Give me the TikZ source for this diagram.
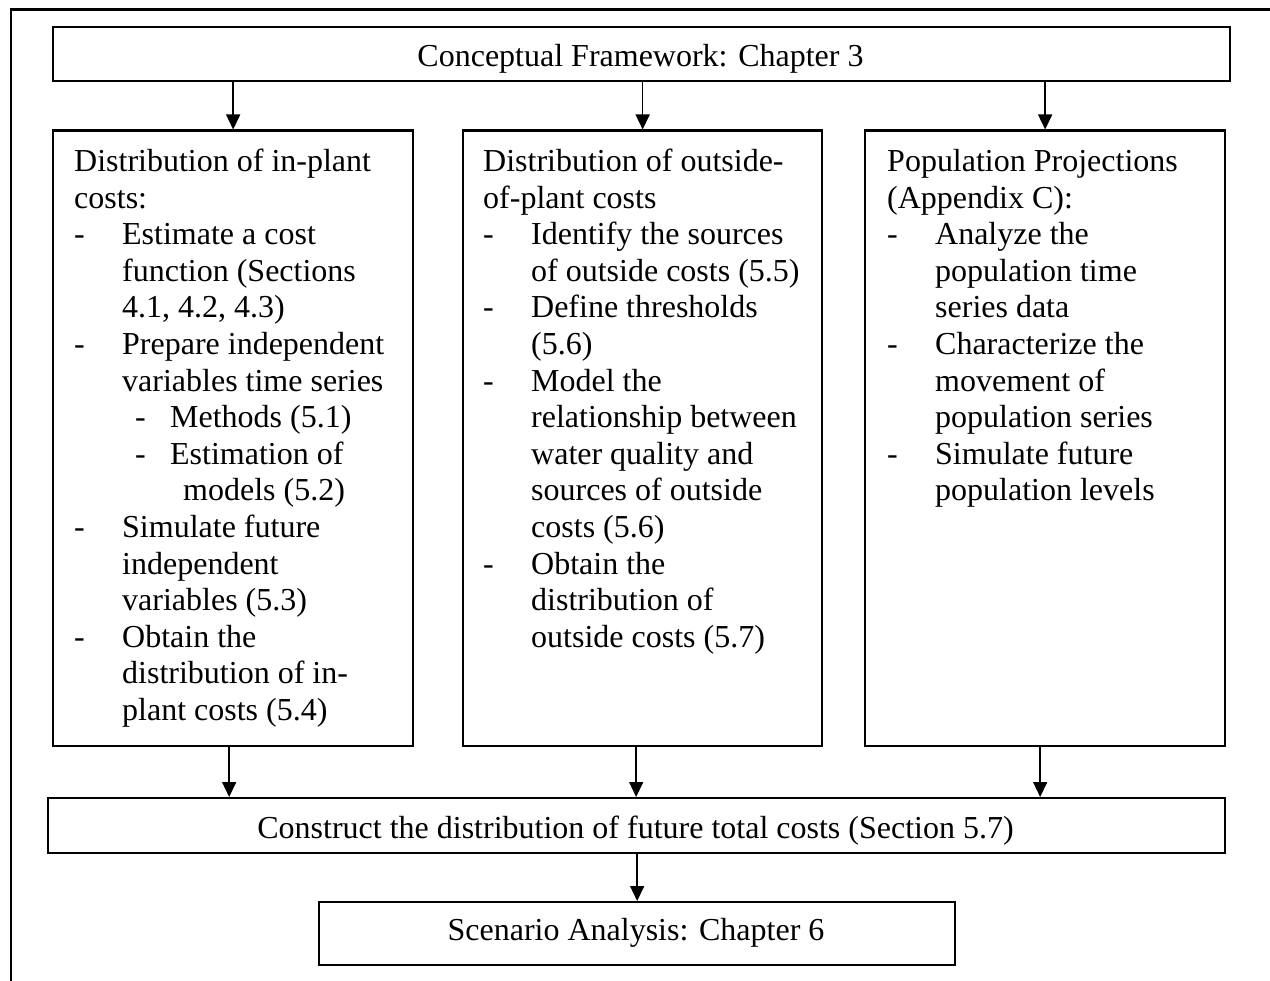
\documentclass[tikz,border=0pt]{standalone}
\usepackage{fontspec}
\setmainfont{Liberation Serif}
\usetikzlibrary{arrows.meta}
\newcommand{\bxline}[1]{\hbox{#1}}
\newcommand{\bxitem}[1]{\hbox{\makebox[48pt][l]{-}#1}}
\newcommand{\bxcont}[1]{\hbox{\hspace*{48pt}#1}}
\newcommand{\bxsub}[1]{\hbox{\hspace*{61pt}\makebox[35pt][l]{-}#1}}
\newcommand{\bxsubcont}[1]{\hbox{\hspace*{109pt}#1}}
\tikzset{
  box/.style={draw, line width=2.3pt, inner sep=0pt, anchor=north west},
  txt/.style={inner sep=0pt, font=\fontsize{32pt}{36.6pt}\selectfont},
  arr/.style={line width=1.5pt, -{Triangle[length=15pt,width=14pt]}}
}
\begin{document}
\begin{tikzpicture}[x=1pt,y=-1pt]
\useasboundingbox (0,0) rectangle (1270,981);
% outer frame (partially visible)
\draw[line width=2.3pt] (11,981) -- (11,9.5) -- (1270,9.5);
% boxes
\node[box, minimum width=1177pt, minimum height=54pt] (top) at (52,26) {};
\node[box, minimum width=360pt, minimum height=615pt] (lb) at (52,129.5) {};
\node[box, minimum width=359pt, minimum height=615pt] (mb) at (462,129.5) {};
\node[box, minimum width=360pt, minimum height=615pt] (rb) at (864,129.5) {};
\node[box, minimum width=1177pt, minimum height=55pt] (cons) at (47,797) {};
\node[box, minimum width=636pt, minimum height=63pt] (scen) at (318,901) {};
% texts
\node[txt, anchor=base] (toptxt) at (640.5,67) {Conceptual Framework: Chapter 3};
\node[txt, anchor=base west] (lbtxt) at (74,171.5) {\vtop{\baselineskip=36.6pt
  \bxline{Distribution of in-plant}
  \bxline{costs:}
  \bxitem{Estimate a cost}
  \bxcont{function (Sections}
  \bxcont{4.1, 4.2, 4.3)}
  \bxitem{Prepare independent}
  \bxcont{variables time series}
  \bxsub{Methods (5.1)}
  \bxsub{Estimation of}
  \bxsubcont{models (5.2)}
  \bxitem{Simulate future}
  \bxcont{independent}
  \bxcont{variables (5.3)}
  \bxitem{Obtain the}
  \bxcont{distribution of in-}
  \bxcont{plant costs (5.4)}}};
\node[txt, anchor=base west] (mbtxt) at (483,171.5) {\vtop{\baselineskip=36.6pt
  \bxline{Distribution of outside-}
  \bxline{of-plant costs}
  \bxitem{Identify the sources}
  \bxcont{of outside costs (5.5)}
  \bxitem{Define thresholds}
  \bxcont{(5.6)}
  \bxitem{Model the}
  \bxcont{relationship between}
  \bxcont{water quality and}
  \bxcont{sources of outside}
  \bxcont{costs (5.6)}
  \bxitem{Obtain the}
  \bxcont{distribution of}
  \bxcont{outside costs (5.7)}}};
\node[txt, anchor=base west] (rbtxt) at (887,171.5) {\vtop{\baselineskip=36.6pt
  \bxline{Population Projections}
  \bxline{(Appendix C):}
  \bxitem{Analyze the}
  \bxcont{population time}
  \bxcont{series data}
  \bxitem{Characterize the}
  \bxcont{movement of}
  \bxcont{population series}
  \bxitem{Simulate future}
  \bxcont{population levels}}};
\node[txt, anchor=base] (constxt) at (635.5,838) {Construct the distribution of future total costs (Section 5.7)};
\node[txt, anchor=base] (scentxt) at (636,940) {Scenario Analysis: Chapter 6};
% arrows
\draw[arr] (top.south -| lb.north) -- (lb.north);
\draw[arr] (top.south -| mb.north) -- (mb.north);
\draw[arr] (top.south -| rb.north) -- (rb.north);
\draw[arr] ([xshift=-4pt]lb.south) -- ([xshift=-4pt]lb.south |- cons.north);
\draw[arr] ([xshift=-6.5pt]mb.south) -- ([xshift=-6.5pt]mb.south |- cons.north);
\draw[arr] ([xshift=-5pt]rb.south) -- ([xshift=-5pt]rb.south |- cons.north);
\draw[arr] (cons.south -| scen.north) -- (scen.north);
\end{tikzpicture}
\end{document}
